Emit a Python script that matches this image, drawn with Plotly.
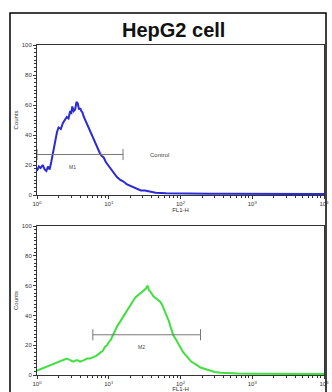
import plotly.graph_objects as go

W, H = 332, 392

# ---- data ----
control_fl1 = [1.0, 1.06, 1.12, 1.2, 1.28, 1.35, 1.42, 1.5, 1.58, 1.66, 1.73, 1.8, 1.9, 2.0, 2.15,
               2.3, 2.45, 2.6, 2.75, 2.9, 3.0, 3.1, 3.25, 3.4, 3.55, 3.7, 3.85, 4.0,
               4.15, 4.3, 4.5, 4.7, 4.9, 5.1, 5.4, 5.8, 6.1, 6.5, 6.8, 7.1, 7.5, 8.0, 8.5, 9.1,
               9.8, 10.5, 11.2, 12, 13, 14.5, 16, 18, 20, 22, 25, 28, 32, 38, 45,
               63, 90, 160, 250, 400, 630, 1000, 1600, 3200, 5000, 10000]
control_counts = [16, 19, 18, 20, 17, 16, 19, 17, 22, 28, 33, 38, 42, 45, 44,
                  48, 50, 52, 51, 56, 54, 59, 56, 57, 62, 61, 57, 58,
                  56, 55, 52, 50, 48, 46, 43, 40, 37, 34, 33, 31, 28, 26, 25, 22,
                  20, 18, 16, 14, 12, 10, 9, 7, 6, 5, 4, 3, 3, 2, 1.5,
                  1.2, 1, 1, 0.8, 0.8, 0.8, 0.8, 0.6, 0.6, 0.6, 0.6]

sample_fl1 = [1.0, 1.12, 1.26, 1.4, 1.6, 1.8, 2.0, 2.3, 2.6, 2.9, 3.2, 3.6, 4.0, 4.5, 5.0, 5.5,
              6.0, 6.8, 7.6, 8.2, 8.9, 9.5, 10, 10.8, 11.5, 12.3, 13.2, 14.5, 15.8, 17.2,
              18.6, 20, 22, 23.5, 25, 26.3, 27.5, 29.5, 31.6, 33, 34.7, 36.3, 38, 40, 41.7,
              44, 46.8, 49.5, 52.5, 55.5, 59, 62.5, 66, 69, 72, 75, 79, 86, 93, 100,
              110, 125, 141, 165, 190, 220, 250, 300, 363, 450, 630, 1000, 1580, 3000, 10000]
sample_counts = [3, 4, 5, 6, 7, 8, 9, 10, 11, 10, 9, 10, 9, 10, 11, 11,
                 12, 13, 15, 16, 19, 20, 22, 24, 27, 30, 33, 36, 39, 42,
                 45, 47, 50, 52, 53, 54, 55, 56, 57, 58, 60, 57, 56, 54, 53,
                 52, 51, 50, 49, 47, 44, 42, 39, 36, 33, 30, 27, 24, 21, 18,
                 15, 12, 9, 7, 5, 4, 3, 2, 1.5, 1.2, 1, 0.8, 0.8, 0.7, 0.6]

m1_range = [1.0, 15.8]
m1_level = 27
m2_range = [6.0, 190]
m2_level = 27

y_ticks = [0, 20, 40, 60, 80, 100]
x_tickvals = [1, 10, 100, 1000, 10000]
x_ticktext = ["10<sup>0</sup>", "10<sup>1</sup>", "10<sup>2</sup>", "10<sup>3</sup>", "10<sup>4</sup>"]

BLUE = "#2a2ad6"
GREEN = "#3fe03f"
GRAY = "#777777"

fig = go.Figure()

fig.add_trace(go.Scatter(x=control_fl1, y=control_counts, mode="lines",
                         line=dict(color=BLUE, width=2), xaxis="x", yaxis="y", showlegend=False))
fig.add_trace(go.Scatter(x=m1_range, y=[m1_level, m1_level], mode="lines+markers",
                         line=dict(color=GRAY, width=1),
                         marker=dict(symbol="line-ns-open", size=8, color=GRAY, line=dict(width=1, color=GRAY)),
                         xaxis="x", yaxis="y", showlegend=False))

fig.add_trace(go.Scatter(x=sample_fl1, y=sample_counts, mode="lines",
                         line=dict(color=GREEN, width=2), xaxis="x2", yaxis="y2", showlegend=False))
fig.add_trace(go.Scatter(x=m2_range, y=[m2_level, m2_level], mode="lines+markers",
                         line=dict(color=GRAY, width=1),
                         marker=dict(symbol="line-ns-open", size=8, color=GRAY, line=dict(width=1, color=GRAY)),
                         xaxis="x2", yaxis="y2", showlegend=False))

xdom = [37 / W, 324 / W]
ydom1 = [1 - 195 / H, 1 - 45 / H]
ydom2 = [1 - 375 / H, 1 - 226 / H]

tickfont = dict(size=6, color="#333", family="Liberation Sans, Arial")

def xaxis_cfg(anchor):
    return dict(type="log", range=[0, 4], domain=xdom, anchor=anchor, automargin=False,
                tickvals=x_tickvals, ticktext=x_ticktext, tickfont=tickfont,
                showline=True, mirror=True, linecolor="#333", linewidth=1,
                ticks="outside", ticklen=3, tickcolor="#333",
                minor=dict(ticks="outside", ticklen=2, tickcolor="#333", dtick="D1"),
                showgrid=False, zeroline=False,
                title=dict(text="FL1-H", font=dict(size=6, color="#333"), standoff=0))

def yaxis_cfg(anchor, dom):
    return dict(range=[0, 100], domain=dom, anchor=anchor, automargin=False,
                tickvals=y_ticks, tickfont=tickfont,
                showline=True, mirror=True, linecolor="#333", linewidth=1,
                ticks="outside", ticklen=3, tickcolor="#333",
                minor=dict(ticks="outside", ticklen=2, tickcolor="#333", dtick=2.5),
                showgrid=False, zeroline=False,
                title=dict(text="Counts", font=dict(size=6, color="#333"), standoff=2))

fig.update_layout(
    width=W, height=H,
    margin=dict(l=0, r=0, t=0, b=0),
    paper_bgcolor="white", plot_bgcolor="white",
    xaxis=xaxis_cfg("y"),
    yaxis=yaxis_cfg("x", ydom1),
    xaxis2=xaxis_cfg("y2"),
    yaxis2=yaxis_cfg("x2", ydom2),
    font=dict(family="Liberation Sans, Arial"),
    shapes=[dict(type="rect", xref="paper", yref="paper",
                 x0=10 / W, x1=326 / W, y0=-0.02, y1=1 - 13 / H,
                 line=dict(color="black", width=1.5), layer="below")],
    annotations=[
        dict(text="<b>HepG2 cell</b>", x=173 / W, y=1 - 30 / H, xref="paper", yref="paper",
             showarrow=False, font=dict(size=20, color="#111"), xanchor="center", yanchor="middle"),
        dict(text="Control", x=1.55, y=m1_level, xref="x", yref="y", xanchor="left",
             showarrow=False, font=dict(size=6, color="#444")),
        dict(text="M1", x=0.49, y=19, xref="x", yref="y",
             showarrow=False, font=dict(size=5, color="#444")),
        dict(text="M2", x=1.46, y=19, xref="x2", yref="y2",
             showarrow=False, font=dict(size=5, color="#444")),
    ],
)

fig.write_html("out.html", config={"displayModeBar": False},
               post_script="document.body.style.margin='0';document.body.style.overflow='hidden';")
